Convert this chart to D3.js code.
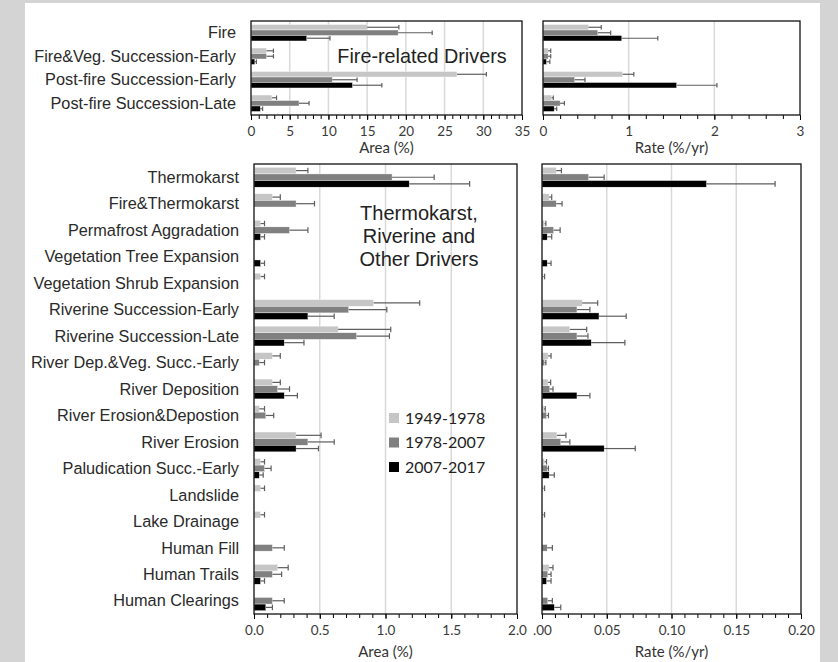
<!DOCTYPE html>
<html>
<head>
<meta charset="utf-8">
<script src="https://cdn.jsdelivr.net/npm/d3@7"></script>
<style>
  body { margin: 0; background: #d4d4d4; }
  svg { display: block; }
</style>
</head>
<body>
<svg id="chart" width="838" height="662"></svg>
<script>
// periods and colors
const periods = ["1949-1978", "1978-2007", "2007-2017"];
const periodColors = ["#c6c6c6", "#808080", "#000000"];

// fire-related drivers
const fireCats = ["Fire", "Fire&Veg. Succession-Early", "Post-fire Succession-Early", "Post-fire Succession-Late"];
const fireArea = [
  [15.0, 2.0, 26.6, 2.7],
  [19.0, 2.0, 10.5, 6.2],
  [7.2, 0.5, 13.1, 1.2]
];
const fireAreaErr = [
  [4.1, 0.9, 3.8, 0.6],
  [4.4, 0.9, 3.2, 1.3],
  [3.0, 0.2, 3.8, 0.3]
];
const fireRate = [
  [0.53, 0.06, 0.93, 0.10],
  [0.64, 0.06, 0.37, 0.20],
  [0.92, 0.04, 1.56, 0.13]
];
const fireRateErr = [
  [0.15, 0.03, 0.13, 0.02],
  [0.15, 0.03, 0.12, 0.05],
  [0.42, 0.04, 0.47, 0.03]
];

// thermokarst, riverine and other drivers
const otherCats = ["Thermokarst", "Fire&Thermokarst", "Permafrost Aggradation", "Vegetation Tree Expansion",
  "Vegetation Shrub Expansion", "Riverine Succession-Early", "Riverine Succession-Late",
  "River Dep.&Veg. Succ.-Early", "River Deposition", "River Erosion&Depostion", "River Erosion",
  "Paludication Succ.-Early", "Landslide", "Lake Drainage", "Human Fill", "Human Trails", "Human Clearings"];
const otherArea = [
  [0.32, 0.14, 0.05, 0, 0.05, 0.91, 0.64, 0.14, 0.14, 0.04, 0.32, 0.05, 0.05, 0.05, 0, 0.18, 0],
  [1.05, 0.32, 0.27, 0, 0, 0.72, 0.78, 0.04, 0.18, 0.09, 0.41, 0.08, 0, 0, 0.14, 0.14, 0.14],
  [1.18, 0, 0.05, 0.05, 0, 0.41, 0.23, 0, 0.23, 0, 0.32, 0.04, 0, 0, 0, 0.05, 0.09]
];
const otherAreaErr = [
  [0.09, 0.06, 0.03, 0, 0.03, 0.35, 0.40, 0.06, 0.06, 0.04, 0.19, 0.03, 0.03, 0.03, 0, 0.08, 0],
  [0.32, 0.14, 0.14, 0, 0, 0.29, 0.25, 0.04, 0.09, 0.06, 0.20, 0.05, 0, 0, 0.09, 0.07, 0.09],
  [0.46, 0, 0.03, 0.03, 0, 0.20, 0.15, 0, 0.10, 0, 0.17, 0.03, 0, 0, 0, 0.03, 0.05]
];
const otherRate = [
  [0.011, 0.0055, 0.002, 0, 0.001, 0.031, 0.0215, 0.0047, 0.0047, 0.0015, 0.0115, 0.002, 0.001, 0.001, 0, 0.0055, 0],
  [0.036, 0.011, 0.009, 0, 0, 0.027, 0.027, 0.002, 0.006, 0.0035, 0.0145, 0.004, 0, 0, 0.004, 0.0045, 0.0045],
  [0.127, 0, 0.004, 0.004, 0, 0.044, 0.038, 0, 0.027, 0, 0.048, 0.0055, 0, 0, 0, 0.0035, 0.0095]
];
const otherRateErr = [
  [0.004, 0.002, 0.001, 0, 0.001, 0.012, 0.013, 0.0023, 0.002, 0.001, 0.007, 0.0015, 0.001, 0.001, 0, 0.003, 0],
  [0.012, 0.0045, 0.005, 0, 0, 0.010, 0.0085, 0.001, 0.0025, 0.0015, 0.007, 0.001, 0, 0, 0.004, 0.0025, 0.0035],
  [0.053, 0, 0.0035, 0.003, 0, 0.021, 0.026, 0, 0.010, 0, 0.024, 0.004, 0, 0, 0, 0.0035, 0.005]
];

// axis ticks
const fireAreaTicks = [0, 5, 10, 15, 20, 25, 30, 35];
const fireRateTicks = [0, 1, 2, 3];
const otherAreaTicks = [0, 0.5, 1.0, 1.5, 2.0];
const otherRateTicks = [0, 0.05, 0.10, 0.15, 0.20];

const svg = d3.select("#chart");
svg.append("rect").attr("x", 25).attr("y", 3).attr("width", 795).attr("height", 659).attr("fill", "#fff");

const labelFont = "'Liberation Sans', Arial, sans-serif";
const tickFont = "Lato, 'Open Sans', sans-serif";

function drawPanel(o) {
  const x = d3.scaleLinear().domain([0, o.max]).range([o.x0, o.x1]);
  const y = d3.scaleBand().domain(o.cats).range([o.y0, o.y1]).paddingInner(o.pad).paddingOuter(o.pad / 2);
  const ySub = d3.scaleBand().domain(d3.range(3)).range([0, y.bandwidth()]);
  const g = svg.append("g");

  // gridlines
  g.selectAll(".grid")
    .data(o.ticks.filter((t) => t > 0 && t < o.max))
    .enter()
    .append("line")
    .attr("x1", (d) => x(d))
    .attr("x2", (d) => x(d))
    .attr("y1", o.y0)
    .attr("y2", o.y1)
    .style("stroke", "#d9d9d9")
    .style("stroke-width", 1.5);

  // bars
  periods.forEach((p, i) => {
    const rows = o.cats.map((c, j) => ({ cat: c, v: o.values[i][j], e: o.errs[i][j] }));
    g.selectAll(".bar" + i)
      .data(rows.filter((d) => d.v > 0))
      .enter()
      .append("rect")
      .attr("x", x(0))
      .attr("y", (d) => y(d.cat) + ySub(i))
      .attr("width", (d) => x(d.v) - x(0))
      .attr("height", ySub.bandwidth())
      .style("fill", periodColors[i])
      .style("stroke", "#fff")
      .style("stroke-width", 0.4);

    const eb = g.selectAll(".err" + i)
      .data(rows.filter((d) => d.e > 0))
      .enter()
      .append("g");
    eb.append("line")
      .attr("x1", (d) => x(d.v))
      .attr("x2", (d) => x(d.v + d.e))
      .attr("y1", (d) => y(d.cat) + ySub(i) + ySub.bandwidth() / 2)
      .attr("y2", (d) => y(d.cat) + ySub(i) + ySub.bandwidth() / 2)
      .style("stroke", "#5e5e5e")
      .style("stroke-width", 1.2);
    eb.append("line")
      .attr("x1", (d) => x(d.v + d.e))
      .attr("x2", (d) => x(d.v + d.e))
      .attr("y1", (d) => y(d.cat) + ySub(i) + 0.5)
      .attr("y2", (d) => y(d.cat) + ySub(i) + ySub.bandwidth() - 0.5)
      .style("stroke", "#5e5e5e")
      .style("stroke-width", 1.2);
  });

  // minor ticks
  const minor = g.append("g")
    .attr("transform", `translate(0,${o.y1})`)
    .call(d3.axisBottom(x).tickValues(d3.range(0, o.max + o.minor / 2, o.minor)).tickSize(4).tickFormat(""));
  minor.select(".domain").remove();
  minor.selectAll("line").style("stroke", "#000");

  // major ticks
  const ax = g.append("g")
    .attr("transform", `translate(0,${o.y1})`)
    .call(d3.axisBottom(x).tickValues(o.ticks).tickSize(5).tickPadding(6).tickFormat(o.fmt));
  ax.select(".domain").remove();
  ax.selectAll("line").style("stroke", "#000");
  ax.selectAll("text")
    .style("font-family", tickFont)
    .style("font-size", "13.5px")
    .style("fill", "#3a3a3a");

  // frame
  g.append("rect")
    .attr("x", o.x0)
    .attr("y", o.y0)
    .attr("width", o.x1 - o.x0)
    .attr("height", o.y1 - o.y0)
    .style("fill", "none")
    .style("stroke", "#111")
    .style("stroke-width", 1.3);

  // axis title
  g.append("text")
    .attr("x", (o.x0 + o.x1) / 2)
    .attr("y", o.titleY)
    .style("text-anchor", "middle")
    .style("font-family", tickFont)
    .style("font-size", "15px")
    .style("fill", "#333")
    .text(o.title);

  // category labels
  if (o.labels) {
    g.selectAll(".cat")
      .data(o.cats)
      .enter()
      .append("text")
      .attr("x", o.x0 - 15)
      .attr("y", (d) => y(d) + y.bandwidth() / 2)
      .attr("dy", "0.35em")
      .style("text-anchor", "end")
      .style("font-family", labelFont)
      .style("font-size", "16.3px")
      .style("fill", "#2a2a2a")
      .text((d) => d);
  }
}

drawPanel({
  cats: fireCats, values: fireArea, errs: fireAreaErr, max: 35, ticks: fireAreaTicks, minor: 1,
  fmt: d3.format("d"), x0: 251, x1: 522, y0: 21, y1: 115, pad: 0.3, title: "Area (%)", titleY: 153, labels: true
});
drawPanel({
  cats: fireCats, values: fireRate, errs: fireRateErr, max: 3, ticks: fireRateTicks, minor: 0.2,
  fmt: d3.format("d"), x0: 543, x1: 800, y0: 21, y1: 115, pad: 0.3, title: "Rate (%/yr)", titleY: 153, labels: false
});
drawPanel({
  cats: otherCats, values: otherArea, errs: otherAreaErr, max: 2, ticks: otherAreaTicks, minor: 0.1,
  fmt: d3.format(".1f"), x0: 254, x1: 517, y0: 164, y1: 614, pad: 0.25, title: "Area (%)", titleY: 657, labels: true
});
drawPanel({
  cats: otherCats, values: otherRate, errs: otherRateErr, max: 0.2, ticks: otherRateTicks, minor: 0.01,
  fmt: (d) => (d === 0 ? ".00" : d3.format(".2f")(d)), x0: 542, x1: 801, y0: 164, y1: 614, pad: 0.25,
  title: "Rate (%/yr)", titleY: 657, labels: false
});

// panel titles
svg.append("text")
  .attr("x", 422).attr("y", 63)
  .style("text-anchor", "middle")
  .style("font-family", labelFont)
  .style("font-size", "19.8px")
  .style("fill", "#222")
  .text("Fire-related Drivers");

const otherTitle = ["Thermokarst,", "Riverine and", "Other Drivers"];
svg.append("g").selectAll("text")
  .data(otherTitle)
  .enter()
  .append("text")
  .attr("x", 419)
  .attr("y", (d, i) => 220 + i * 23)
  .style("text-anchor", "middle")
  .style("font-family", labelFont)
  .style("font-size", "20px")
  .style("fill", "#222")
  .text((d) => d);

// legend
const legend = svg.append("g").attr("transform", "translate(389,418)");
periods.forEach((p, i) => {
  legend.append("rect")
    .attr("x", 0).attr("y", i * 24.5 - 5)
    .attr("width", 10).attr("height", 10)
    .style("fill", periodColors[i]);
  legend.append("text")
    .attr("x", 16).attr("y", i * 24.5)
    .attr("dy", "0.35em")
    .style("font-family", tickFont)
    .style("font-size", "16px")
    .style("fill", "#222")
    .text(p);
});
</script>
</body>
</html>
